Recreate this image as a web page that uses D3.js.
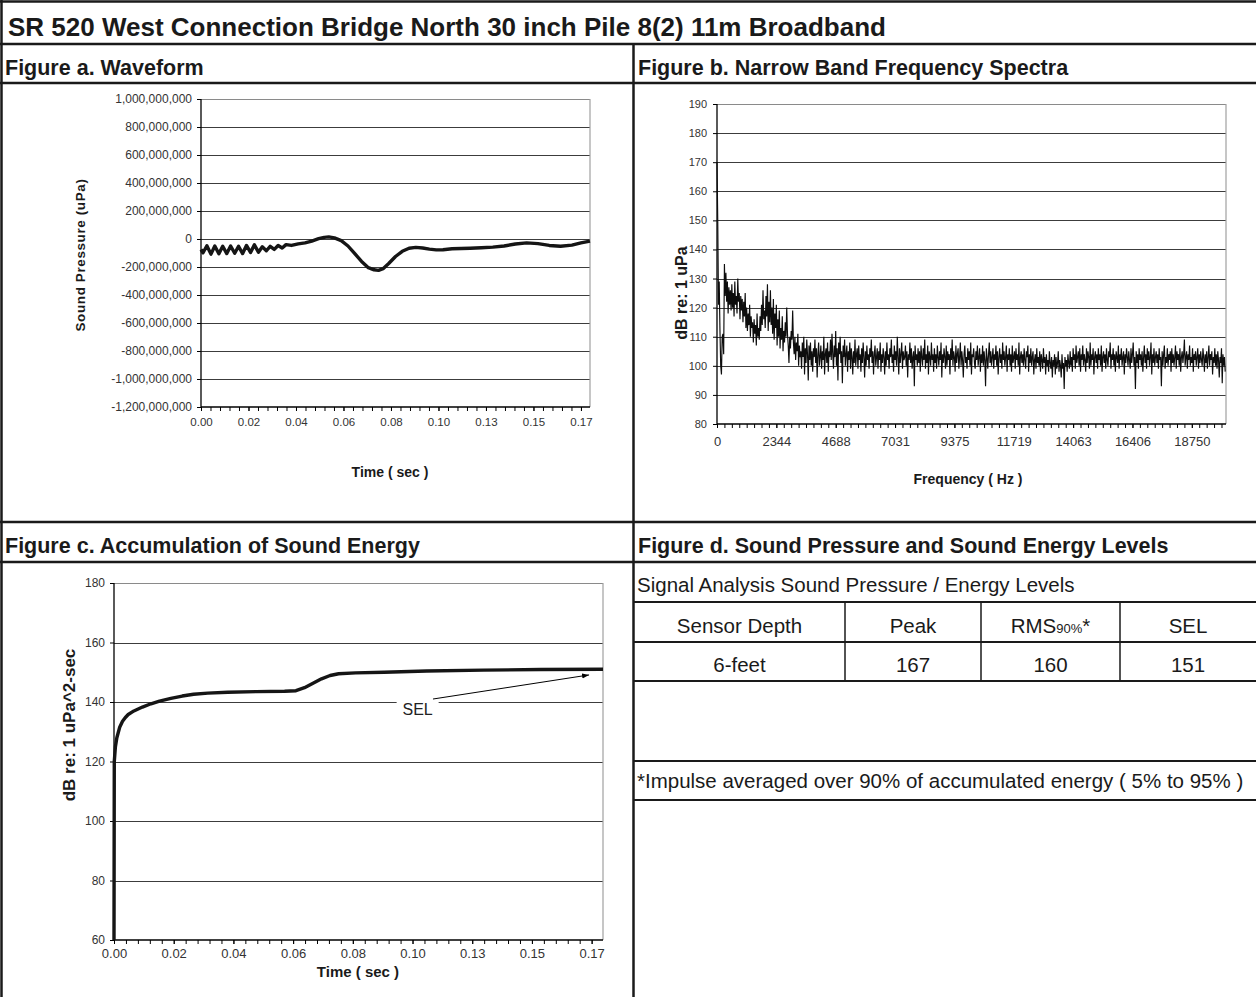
<!DOCTYPE html>
<html><head><meta charset="utf-8">
<script src="https://cdn.jsdelivr.net/npm/d3@7"></script>
<style>body{margin:0;background:#fff}</style>
</head><body><svg id="c" width="1256" height="997"></svg>
<script>
// ---------------- DATA ----------------
const mainTitle = "SR 520 West Connection Bridge North 30 inch Pile 8(2) 11m Broadband";
const panelTitles = ["Figure a. Waveform", "Figure b. Narrow Band Frequency Spectra",
  "Figure c. Accumulation of Sound Energy", "Figure d. Sound Pressure and Sound Energy Levels"];

// Figure a: waveform (time s, pressure uPa)
const waveTime = [0.0000,0.0009,0.0026,0.0044,0.0061,0.0079,0.0096,0.0114,0.0131,0.0149,0.0166,0.0184,0.0201,0.0219,0.0236,0.0254,0.0271,0.0289,0.0306,0.0324,0.0341,0.0359,0.0376,0.0400,0.0430,0.0460,0.0490,0.0520,0.0545,0.0565,0.0590,0.0620,0.0650,0.0680,0.0710,0.0740,0.0765,0.0785,0.0805,0.0830,0.0860,0.0890,0.0920,0.0950,0.0980,0.1010,0.1040,0.1070,0.1110,0.1150,0.1190,0.1240,0.1290,0.1340,0.1390,0.1440,0.1490,0.1540,0.1590,0.1640,0.1680,0.1720];
const wavePressure = [-75e6,-98e6,-48e6,-108e6,-50e6,-106e6,-52e6,-104e6,-50e6,-102e6,-52e6,-104e6,-46e6,-96e6,-42e6,-94e6,-56e6,-84e6,-52e6,-74e6,-46e6,-64e6,-40e6,-46e6,-35e6,-28e6,-15e6,2e6,12e6,15e6,8e6,-12e6,-50e6,-105e6,-160e6,-205e6,-220e6,-224e6,-212e6,-175e6,-125e6,-88e6,-66e6,-60e6,-64e6,-72e6,-78e6,-77e6,-70e6,-68e6,-66e6,-62e6,-58e6,-50e6,-36e6,-28e6,-33e6,-46e6,-52e6,-44e6,-28e6,-15e6];
const waveYTicks = [1e9,8e8,6e8,4e8,2e8,0,-2e8,-4e8,-6e8,-8e8,-1e9,-1.2e9];
const timeTickLabels = ["0.00","0.02","0.04","0.06","0.08","0.10","0.13","0.15","0.17"];
const timeTickValues = [0,0.021,0.042,0.063,0.084,0.105,0.126,0.147,0.168];

// Figure b: narrow band spectrum (bin width Hz, dB per bin)
const specBinHz = 29.296875;
const specDb = [
170,150,121,129,112,100,97,110,111,104,135,124,132,122,129,118,127,121,126,119,
128,120,125,117,129,121,124,118,130,122,125,116,124,119,123,115,122,117,125,113,
120,112,118,114,121,110,117,113,115,108,116,111,114,107,118,110,113,109,117,112,
121,114,126,116,119,113,124,117,128,112,122,115,126,114,120,111,123,109,118,113,
121,107,116,110,119,106,113,109,117,105,112,108,115,110,120,111,107,101,110,106,
112,109,119,108,104,110,102,108,105,111,100,107,103,
105,99,108,103,110,97,106,101,109,104,95,107,102,108,100,105,98,106,103,109,
101,106,96,104,108,100,103,107,99,105,102,110,97,104,106,101,108,98,105,103,
109,102,111,104,99,107,103,112,100,106,95,108,104,110,101,105,94,107,103,109,
100,104,107,98,105,102,108,99,106,103,97,105,101,109,100,104,106,99,107,102,
104,98,106,101,108,103,96,105,100,107,102,104,99,106,103,109,101,105,97,104,
107,100,103,106,99,105,102,108,98,104,101,106,103,97,105,100,108,102,104,99,
106,103,109,101,104,98,107,102,105,100,110,103,97,106,101,104,108,99,105,102,
103,107,100,105,96,104,102,108,101,106,99,103,105,93,107,102,104,100,106,101,
105,98,107,103,100,106,102,109,99,104,101,107,97,105,103,100,108,102,104,98,
106,101,104,99,107,103,100,105,102,108,96,104,101,106,103,99,107,100,105,102,
104,97,106,102,109,100,105,103,98,107,101,104,106,99,103,108,100,105,102,96,
104,107,101,103,99,106,102,105,100,108,97,104,103,106,101,99,105,102,107,100,
103,106,98,104,101,107,100,105,102,93,106,103,99,104,108,101,105,100,103,106,
99,104,102,107,100,105,97,103,106,101,104,99,108,102,105,100,103,107,98,104,
102,106,100,104,98,107,101,103,105,99,106,102,104,100,108,97,103,105,101,104,
100,106,102,99,105,103,107,98,104,101,106,100,103,105,97,102,104,99,106,101,
103,100,105,98,104,102,99,106,101,103,97,104,100,102,98,105,101,99,103,96,
102,100,104,97,103,99,101,105,98,102,100,96,104,99,101,92,103,100,102,98,
104,101,99,105,100,103,98,106,102,104,99,107,101,103,105,100,106,98,104,102,
107,100,104,102,98,106,101,105,103,99,108,100,104,102,106,97,103,105,101,104,
99,106,102,104,100,107,98,103,105,101,104,99,106,102,100,105,103,108,99,104,
102,106,100,104,98,105,103,101,107,99,104,102,106,100,103,105,97,104,101,106,
103,100,105,102,99,106,101,104,108,100,103,92,105,101,104,99,106,102,104,100,
105,98,103,107,101,104,99,106,102,105,100,103,108,97,104,101,106,100,103,105,
101,104,99,106,102,103,93,105,100,104,107,99,103,101,106,100,104,102,105,98,
106,101,104,100,103,107,99,105,102,104,100,106,98,103,105,101,104,109,100,103,
105,99,104,102,107,100,103,101,106,98,104,102,105,100,103,106,99,104,101,105,
102,100,106,103,98,104,101,105,99,103,107,100,104,102,105,97,103,101,106,100,
104,99,105,102,96,103,101,106,94,104,100,103,98];
const specYTicks = [80,90,100,110,120,130,140,150,160,170,180,190];
const specXTickLabels = ["0","2344","4688","7031","9375","11719","14063","16406","18750"];
const specXTickValues = [0,2343.75,4687.5,7031.25,9375,11718.75,14062.5,16406.25,18750];

// Figure c: accumulated sound energy
const selTime = [0,0.0001,0.0005,0.001,0.002,0.003,0.004,0.005,0.007,0.010,0.013,0.016,0.020,0.024,0.028,0.033,0.040,0.050,0.060,0.064,0.067,0.070,0.073,0.076,0.079,0.085,0.095,0.110,0.130,0.150,0.172];
const selDb = [60,120,125,128,131.5,133.5,134.8,135.8,137,138.3,139.4,140.3,141.2,142,142.6,143,143.3,143.5,143.6,143.8,144.8,146.3,147.8,148.9,149.5,149.8,150,150.4,150.7,150.9,151];
const selYTicks = [60,80,100,120,140,160,180];
const selNote = {label: "SEL", t: 0.1068, db: 137.8, fromT: 0.1122, fromDb: 141, toT: 0.1671, toDb: 149.1};

// Figure d: table
const tableCaption = "Signal Analysis Sound Pressure / Energy Levels";
const tableHeader = ["Sensor Depth", "Peak", "RMS", "SEL"];
const tableRow = ["6-feet", "167", "160", "151"];
const footnote = "*Impulse averaged over 90% of accumulated energy ( 5% to 95% )";

// ---------------- DRAW ----------------
const NARROW = "'Liberation Sans Narrow','Arial Narrow',sans-serif";
const SANS = "'Liberation Sans',Arial,sans-serif";
const svg = d3.select("#c");
svg.append("rect").attr("width",1256).attr("height",997).attr("fill","#fff");
const loc = d3.formatLocale({decimal:".", thousands:",", grouping:[3], currency:["",""], minus:"-"});
const fmtComma = loc.format(",");

function drawPlot(cfg){
  const g = svg.append("g");
  const [x0,x1] = cfg.x.range(), [yb,yt] = cfg.y.range();
  const [dmin,dmax] = cfg.y.domain();
  g.selectAll(".grid").data(cfg.yTicks.filter(v=>v!==dmin && v!==dmax)).join("line")
    .attr("x1",x0).attr("x2",x1).attr("y1",d=>Math.round(cfg.y(d))+0.5).attr("y2",d=>Math.round(cfg.y(d))+0.5)
    .attr("stroke","#3c3c3c").attr("stroke-width",1);
  g.append("line").attr("x1",x0).attr("x2",x1).attr("y1",Math.round(yt)+0.5).attr("y2",Math.round(yt)+0.5).attr("stroke","#8a8a8a").attr("stroke-width",1.2);
  g.append("line").attr("x1",x1).attr("x2",x1).attr("y1",yt).attr("y2",yb).attr("stroke","#a0a0a0").attr("stroke-width",1.2);
  const ya = g.append("g").attr("transform",`translate(${x0},0)`)
    .call(d3.axisLeft(cfg.y).tickValues(cfg.yTicks).tickFormat(cfg.yFmt).tickSize(4).tickPadding(cfg.yPad));
  ya.select(".domain").remove();
  ya.selectAll("line").attr("stroke","#000");
  ya.selectAll("text").attr("font-family",cfg.yFont).attr("font-size",cfg.yFontSize).attr("fill","#333");
  const xm = g.append("g").attr("transform",`translate(0,${yb})`)
    .call(d3.axisBottom(cfg.x).tickValues(cfg.xMinor).tickFormat("").tickSize(4));
  xm.select(".domain").remove(); xm.selectAll("line").attr("stroke","#000");
  const xa = g.append("g").attr("transform",`translate(0,${yb})`)
    .call(d3.axisBottom(cfg.x).tickValues(cfg.xMajor).tickFormat((d,i)=>cfg.xLabels[i]).tickSize(4).tickPadding(cfg.xPad));
  xa.select(".domain").remove(); xa.selectAll("line").attr("stroke","#000");
  xa.selectAll("text").attr("font-family",cfg.xFont).attr("font-size",cfg.xFontSize).attr("fill","#333");
  g.append("line").attr("x1",x0).attr("x2",x0).attr("y1",yt).attr("y2",yb).attr("stroke","#000").attr("stroke-width",1.3);
  g.append("line").attr("x1",x0).attr("x2",x1).attr("y1",yb).attr("y2",yb).attr("stroke","#000").attr("stroke-width",1.3);
  g.append("text").attr("transform",`translate(${cfg.yTitlePos[0]},${cfg.yTitlePos[1]}) rotate(-90)`)
    .attr("text-anchor","middle").text(cfg.yTitle).attr("font-family",cfg.yTitleFont).attr("font-weight","bold")
    .attr("font-size",cfg.yTitleSize).attr("letter-spacing",cfg.yTitleLS||0).attr("fill","#1a1a1a");
  g.append("text").attr("x",cfg.xTitlePos[0]).attr("y",cfg.xTitlePos[1]).attr("text-anchor","middle").text(cfg.xTitle)
    .attr("font-family",cfg.xTitleFont).attr("font-weight","bold").attr("font-size",cfg.xTitleSize).attr("fill","#1a1a1a");
  return g;
}

// ---- Figure a
const ax = d3.scaleLinear([0,0.172],[201,590]);
const ay = d3.scaleLinear([-1.2e9,1e9],[407,99]);
const ga = drawPlot({x:ax,y:ay,yTicks:waveYTicks,yFmt:fmtComma,yPad:5,yFont:SANS,yFontSize:12,
  xMajor:timeTickValues,xLabels:timeTickLabels,xMinor:d3.range(0,0.1721,0.0042),xPad:7,xFont:SANS,xFontSize:11.5,
  yTitle:"Sound Pressure (uPa)",yTitlePos:[85,255],yTitleFont:SANS,yTitleSize:13.5,yTitleLS:0.6,
  xTitle:"Time ( sec )",xTitlePos:[390,477],xTitleFont:NARROW,xTitleSize:14});
ga.append("path").datum(d3.zip(waveTime,wavePressure))
  .attr("d",d3.line().x(d=>ax(d[0])).y(d=>ay(d[1])))
  .attr("fill","none").attr("stroke","#151515").attr("stroke-width",3.4).attr("stroke-linejoin","round");

// ---- Figure b
const bx = d3.scaleLinear([0,20100],[717,1226]);
const by = d3.scaleLinear([80,190],[424,104]);
const gb = drawPlot({x:bx,y:by,yTicks:specYTicks,yFmt:d=>d,yPad:6,yFont:NARROW,yFontSize:11,
  xMajor:specXTickValues,xLabels:specXTickLabels,xMinor:d3.range(0,20100,292.96875),xPad:9,xFont:NARROW,xFontSize:13,
  yTitle:"dB re: 1 uPa",yTitlePos:[687,293],yTitleFont:NARROW,yTitleSize:16,
  xTitle:"Frequency ( Hz )",xTitlePos:[968,484],xTitleFont:NARROW,xTitleSize:14});
gb.append("path").datum(specDb)
  .attr("d",d3.line().x((d,i)=>bx(i*specBinHz)).y(d=>by(d)))
  .attr("fill","none").attr("stroke","#0d0d0d").attr("stroke-width",1.15);

// ---- Figure c
const cx = d3.scaleLinear([0,0.172],[114,603]);
const cy = d3.scaleLinear([60,180],[940,583]);
const gc = drawPlot({x:cx,y:cy,yTicks:selYTicks,yFmt:d=>d,yPad:5,yFont:NARROW,yFontSize:12,
  xMajor:timeTickValues,xLabels:timeTickLabels,xMinor:d3.range(0,0.1721,0.0042),xPad:5,xFont:NARROW,xFontSize:13,
  yTitle:"dB re: 1 uPa^2-sec",yTitlePos:[75,725],yTitleFont:NARROW,yTitleSize:17,
  xTitle:"Time ( sec )",xTitlePos:[358,977],xTitleFont:NARROW,xTitleSize:15});
gc.append("path").datum(d3.zip(selTime,selDb))
  .attr("d",d3.line().x(d=>cx(d[0])).y(d=>cy(d[1])))
  .attr("fill","none").attr("stroke","#151515").attr("stroke-width",3.4).attr("stroke-linejoin","round");
svg.append("defs").append("marker").attr("id","arr").attr("viewBox","0 0 10 10").attr("refX",10).attr("refY",5)
  .attr("markerWidth",7).attr("markerHeight",7).attr("orient","auto")
  .append("path").attr("d","M0,1.5 L10,5 L0,8.5 Z").attr("fill","#000");
gc.append("rect").attr("x",cx(selNote.t)-21).attr("y",cy(selNote.db)-12).attr("width",42).attr("height",20).attr("fill","#fff");
gc.append("text").attr("x",cx(selNote.t)).attr("y",cy(selNote.db)+6).attr("text-anchor","middle").text(selNote.label)
  .attr("font-family",NARROW).attr("font-size",16).attr("fill","#222");
gc.append("line").attr("x1",cx(selNote.fromT)).attr("y1",cy(selNote.fromDb)).attr("x2",cx(selNote.toT)).attr("y2",cy(selNote.toDb))
  .attr("stroke","#000").attr("stroke-width",1).attr("marker-end","url(#arr)");

// frame lines (drawn on top)
const frame = svg.append("g").attr("stroke","#1a1a1a");
[[0,1.5,1256,1.5,2.5],[0,44,1256,44,2.5],[0,83,1256,83,2.5],[0,522,1256,522,2.5],[0,562,1256,562,2.5]]
  .forEach(l=>frame.append("line").attr("x1",l[0]).attr("y1",l[1]).attr("x2",l[2]).attr("y2",l[3]).attr("stroke-width",l[4]));
frame.append("line").attr("x1",1.5).attr("y1",0).attr("x2",1.5).attr("y2",997).attr("stroke-width",2.5);
frame.append("line").attr("x1",633.5).attr("y1",44).attr("x2",633.5).attr("y2",997).attr("stroke-width",2.5);

svg.append("text").attr("x",8).attr("y",36).text(mainTitle)
  .attr("font-family",NARROW).attr("font-weight","bold").attr("font-size",26).attr("fill","#1a1a1a");
[[5,75,0],[638,75,1],[5,553,2],[638,553,3]].forEach(p=>{
  svg.append("text").attr("x",p[0]).attr("y",p[1]).text(panelTitles[p[2]])
    .attr("font-family",NARROW).attr("font-weight","bold").attr("font-size",21.5).attr("fill","#1a1a1a");
});

// ---- Figure d table
const gd = svg.append("g");
const TF = 20.5;
gd.append("text").attr("x",637).attr("y",592).text(tableCaption).attr("font-family",NARROW).attr("font-size",TF).attr("fill","#1a1a1a");
[602,642,681,761,800].forEach(y=>gd.append("line").attr("x1",634).attr("x2",1256).attr("y1",y).attr("y2",y).attr("stroke","#1a1a1a").attr("stroke-width",2));
const colEdges = [634,845,981,1120,1256];
[845,981,1120].forEach(x=>gd.append("line").attr("x1",x).attr("x2",x).attr("y1",602).attr("y2",681).attr("stroke","#1a1a1a").attr("stroke-width",1.5));
tableHeader.forEach((h,i)=>{
  const cxm = (colEdges[i]+colEdges[i+1])/2;
  const t = gd.append("text").attr("x",cxm).attr("y",633).attr("text-anchor","middle")
    .attr("font-family",NARROW).attr("font-size",TF).attr("fill","#1a1a1a");
  if(h==="RMS"){
    t.append("tspan").text("RMS");
    t.append("tspan").attr("font-size",13).text("90%");
    t.append("tspan").text("*");
  } else t.text(h);
  gd.append("text").attr("x",cxm).attr("y",672).attr("text-anchor","middle").text(tableRow[i])
    .attr("font-family",NARROW).attr("font-size",TF).attr("fill","#1a1a1a");
});
gd.append("text").attr("x",637).attr("y",788).text(footnote).attr("font-family",NARROW).attr("font-size",TF).attr("fill","#1a1a1a");
</script></body></html>
